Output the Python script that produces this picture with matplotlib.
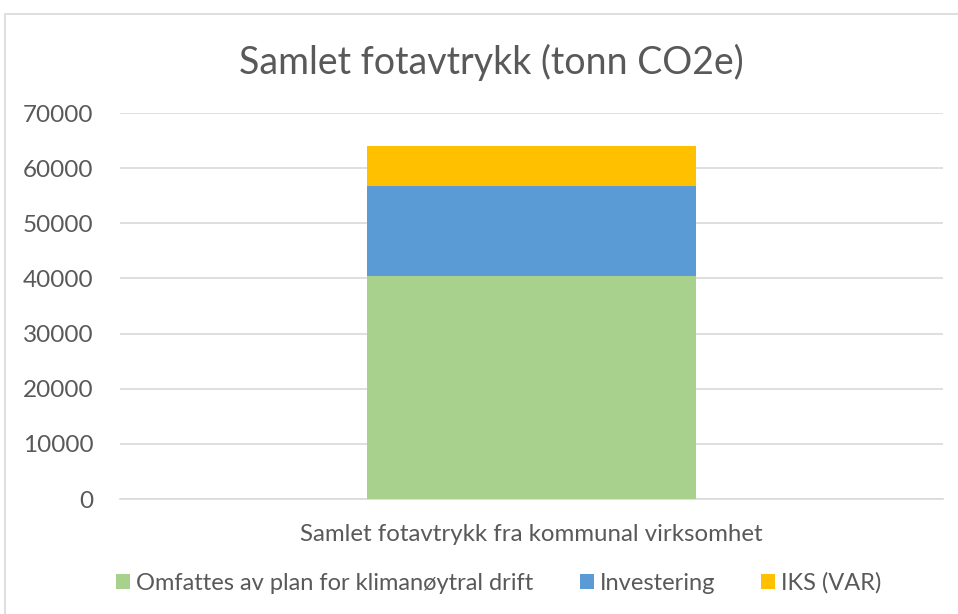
import matplotlib
matplotlib.use("Agg")
import matplotlib.pyplot as plt
from matplotlib.patches import Patch, Rectangle

plt.rcParams['font.family'] = ['Lato', 'DejaVu Sans']

categories = ["Samlet fotavtrykk fra kommunal virksomhet"]
series_names = ["Omfattes av plan for klimanøytral drift", "Investering", "IKS (VAR)"]
green_vals = [40500]
blue_vals = [16350]
yellow_vals = [7250]
colors = ["#A9D18E", "#5B9BD5", "#FFC000"]
yticks = [0, 10000, 20000, 30000, 40000, 50000, 60000, 70000]

txt = "#595959"
grid = "#D9D9D9"

fig = plt.figure(figsize=(9.58, 6.14), dpi=100)
fig.patches.append(Rectangle((5/958, -0.1), 1.2, 1 - 14/614 + 0.1, transform=fig.transFigure,
                             fill=False, edgecolor=grid, linewidth=1.2))

ax = fig.add_axes([120/958, 1 - 499/614, (943 - 120)/958, (499 - 113)/614])
x = list(range(len(categories)))
ax.bar(x, green_vals, width=0.4, color=colors[0], zorder=3)
bottom2 = green_vals
ax.bar(x, blue_vals, width=0.4, bottom=bottom2, color=colors[1], zorder=3)
bottom3 = [g + b for g, b in zip(green_vals, blue_vals)]
ax.bar(x, yellow_vals, width=0.4, bottom=bottom3, color=colors[2], zorder=3)

ax.set_xlim(-0.5, 0.5)
ax.set_ylim(0, 70000)
ax.set_yticks(yticks)
ax.set_yticklabels([str(v) for v in yticks], fontsize=17.5, color=txt)
ax.set_xticks(x)
ax.set_xticklabels(categories, fontsize=17.3, color=txt)
ax.tick_params(axis='y', length=0, pad=19)
ax.tick_params(axis='x', length=0, pad=18)
ax.grid(axis='y', color=grid, linewidth=1.2, zorder=0)
for s in ['top', 'right', 'left']:
    ax.spines[s].set_visible(False)
ax.spines['bottom'].set_color(grid)
ax.spines['bottom'].set_linewidth(1.2)

fig.text(491/958, 1 - 62/614, "Samlet fotavtrykk (tonn CO2e)", ha='center', va='center',
         fontsize=27, color=txt)

handles = [Patch(facecolor=c, edgecolor='none') for c in colors]
fig.legend(handles, series_names, loc='center', bbox_to_anchor=(499/958, 1 - 583/614),
           ncol=3, frameon=False, fontsize=17, labelcolor=txt,
           handlelength=0.6, handleheight=0.6, handletextpad=0.25, columnspacing=1.95)

fig.savefig("out.png", dpi=100)
